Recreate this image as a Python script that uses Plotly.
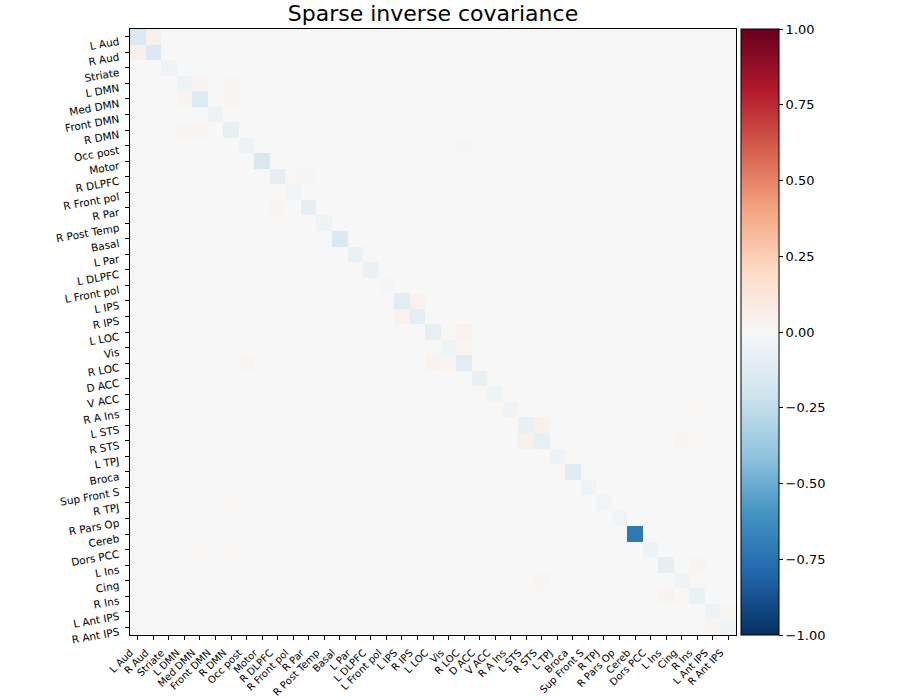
import numpy as np
import plotly.graph_objects as go

labels = ["L Aud", "R Aud", "Striate", "L DMN", "Med DMN", "Front DMN", "R DMN",
          "Occ post", "Motor", "R DLPFC", "R Front pol", "R Par", "R Post Temp",
          "Basal", "L Par", "L DLPFC", "L Front pol", "L IPS", "R IPS", "L LOC",
          "Vis", "R LOC", "D ACC", "V ACC", "R A Ins", "L STS", "R STS", "L TPJ",
          "Broca", "Sup Front S", "R TPJ", "R Pars Op", "Cereb", "Dors PCC",
          "L Ins", "Cing", "R Ins", "L Ant IPS", "R Ant IPS"]

diag_vals = [-0.15, -0.15, -0.05, -0.06, -0.14, -0.06, -0.08, -0.06, -0.17, -0.10,
             -0.03, -0.10, -0.05, -0.15, -0.07, -0.07, -0.02, -0.11, -0.10, -0.09,
             -0.05, -0.11, -0.08, -0.05, -0.04, -0.08, -0.09, -0.06, -0.12, -0.04,
             -0.03, -0.03, -0.72, -0.06, -0.10, -0.05, -0.07, -0.06, -0.05]

pair_rows = [0, 3, 3, 4, 5, 9, 9, 11, 14, 17, 19, 19, 20, 3, 4, 6, 6, 7, 9, 15,
             16, 17, 21, 22, 23, 23, 23, 24, 25, 25, 26, 26, 27, 27, 30, 34, 35, 37]
pair_cols = [1, 4, 6, 6, 14, 10, 11, 17, 15, 18, 20, 21, 21, 27, 33, 30, 33, 21, 24, 27,
             22, 20, 33, 23, 24, 34, 36, 36, 26, 28, 35, 36, 28, 30, 32, 36, 36, 38]
pair_vals = [0.05, 0.03, 0.02, 0.025, 0.008, 0.01, 0.025, -0.01, 0.01, 0.04, 0.01, 0.04,
             0.02, 0.01, 0.01, 0.01, 0.01, 0.025, 0.008, 0.008, 0.008, 0.008, 0.01, 0.01,
             0.01, 0.01, 0.01, 0.008, 0.05, 0.01, 0.02, 0.01, 0.01, 0.01, 0.01, 0.03,
             0.01, 0.02]

n = len(labels)
mat = np.zeros((n, n))
mat[np.arange(n), np.arange(n)] = diag_vals
for r, c, v in zip(pair_rows, pair_cols, pair_vals):
    mat[r, c] = v
    mat[c, r] = v

rdbu = ['rgb(103,0,31)', 'rgb(178,24,43)', 'rgb(214,96,77)', 'rgb(244,165,130)',
        'rgb(253,219,199)', 'rgb(247,247,247)', 'rgb(209,229,240)', 'rgb(146,197,222)',
        'rgb(67,147,195)', 'rgb(33,102,172)', 'rgb(5,48,97)']
rdbu_r = rdbu[::-1]
colorscale = [[i / (len(rdbu_r) - 1), c] for i, c in enumerate(rdbu_r)]

font_family = "DejaVu Sans"
idx = list(range(n))

# layout geometry (pixels)
margin_l, margin_r = 120, 164
area_w = 900 - margin_l - margin_r          # 616
pad_left = 10                                # heatmap starts at 130 px
x_label_shift_px = 7.5                       # matplotlib aligns rotated label bbox
y_label_shift = 0.28

fig = go.Figure()
fig.add_trace(go.Heatmap(
    z=mat, x=idx, y=idx, zmin=-1, zmax=1, colorscale=colorscale,
    colorbar=dict(
        x=(741 - margin_l) / area_w, xanchor="left", xref="paper",
        y=0.5, yanchor="middle", len=1, lenmode="fraction",
        thickness=38, thicknessmode="pixels",
        outlinewidth=1, outlinecolor="black",
        ticks="outside", ticklen=4, tickcolor="black",
        tickvals=[-1, -0.75, -0.5, -0.25, 0, 0.25, 0.5, 0.75, 1],
        tickformat=".2f",
        tickfont=dict(family=font_family, size=13, color="black"),
        xpad=0, ypad=0,
    ),
))
# empty trace carrying the label-only axes
fig.add_trace(go.Scatter(x=[None], y=[None], xaxis="x2", yaxis="y2",
                         showlegend=False, hoverinfo="skip"))

common = dict(showgrid=False, zeroline=False, automargin=False)
fig.update_layout(
    width=900, height=700,
    margin=dict(l=margin_l, r=margin_r, t=29, b=65, autoexpand=False),
    paper_bgcolor="white", plot_bgcolor="rgba(0,0,0,0)",
    showlegend=False,
    title=dict(text="Sparse inverse covariance", x=(130 + 303) / 900, xanchor="center",
               y=1 - 13 / 700, yanchor="middle",
               font=dict(family=font_family, size=22, color="black")),
    xaxis=dict(domain=[pad_left / area_w, 1], range=[-0.5, n - 0.5],
               tickmode="array", tickvals=idx,
               showticklabels=False, ticks="outside", ticklen=4, tickcolor="black",
               showline=True, linecolor="black", linewidth=1, mirror=True, **common),
    yaxis=dict(range=[n - 0.5, -0.5], tickmode="array", tickvals=idx,
               showticklabels=False, ticks="outside", ticklen=4, tickcolor="black",
               showline=True, linecolor="black", linewidth=1, mirror=True, **common),
    xaxis2=dict(domain=[(pad_left - x_label_shift_px) / area_w,
                        (area_w - x_label_shift_px) / area_w],
                anchor="y2", side="bottom", range=[-0.5, n - 0.5],
                tickmode="array", tickvals=idx, ticktext=labels, tickangle=-45,
                ticks="outside", ticklen=4, tickcolor="rgba(0,0,0,0)",
                ticklabelstandoff=3, showline=False,
                tickfont=dict(family=font_family, size=10, color="black"), **common),
    yaxis2=dict(anchor="free", position=pad_left / area_w, side="left",
                range=[n - 0.5 - y_label_shift, -0.5 - y_label_shift],
                tickmode="array", tickvals=idx, ticktext=labels, tickangle=-10,
                ticks="outside", ticklen=4, tickcolor="rgba(0,0,0,0)",
                ticklabelstandoff=5, showline=False,
                tickfont=dict(family=font_family, size=10.5, color="black"), **common),
)

fig.write_html("out.html")
